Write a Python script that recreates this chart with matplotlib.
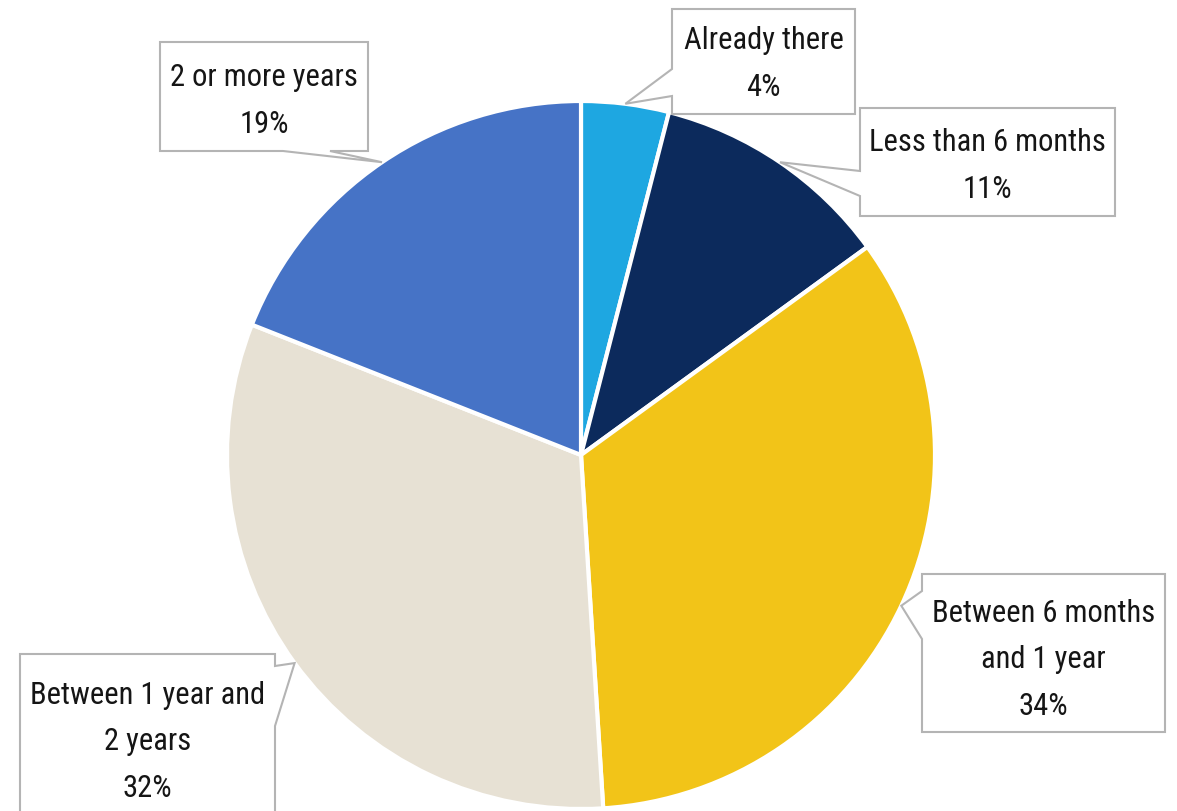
import numpy as np
import matplotlib.pyplot as plt
from matplotlib.patches import Polygon

labels = ["Already there", "Less than 6 months", "Between 6 months\nand 1 year",
          "Between 1 year and\n2 years", "2 or more years"]
shares = [4, 11, 34, 32, 19]
colors = ["#1ea7e1", "#0c2a5c", "#f2c418", "#e7e1d4", "#4673c6"]

plt.rcParams['font.family'] = ['Liberation Sans Narrow', 'DejaVu Sans Condensed',
                               'Roboto Condensed', 'Open Sans Condensed', 'Roboto']

W, H = 1177, 812
CX, CY, R = 581, 456, 354

def px(x, y):
    # pixel position -> data units (pie centre at 0,0, radius 1)
    return ((x - CX) / R, (CY - y) / R)

fig = plt.figure(figsize=(W / 100, H / 100), dpi=100)
ax = fig.add_axes([0, 0, 1, 1])

wedges, _ = ax.pie(shares, colors=colors, startangle=90, counterclock=False,
                   radius=1, wedgeprops=dict(edgecolor='white', linewidth=3))
ax.set_xlim(-CX / R, (W - CX) / R)
ax.set_ylim((CY - H) / R, CY / R)
ax.set_aspect('equal')
ax.axis('off')

# callout boxes: (left, top, right, bottom) in pixels, pointer side, pointer base, text centre y
boxes = [
    ((672, 10, 855, 115), 'left', (70, 97), 64),
    ((860, 109, 1115, 217), 'left', (172, 197), 166),
    ((922, 575, 1165, 733), 'left', (592, 640), 660),
    ((20, 655, 275, 850), 'right', (667, 727), 742),
    ((160, 43, 368, 152), 'bottom', (283, 330), 101),
]

for w, lab, val, (box, side, base, cy) in zip(wedges, labels, shares, boxes):
    mid = np.deg2rad((w.theta1 + w.theta2) / 2)
    tip = (np.cos(mid), np.sin(mid))
    l, t, r, b = box
    if side == 'left':
        pts = [(l, t), (r, t), (r, b), (l, b), (l, base[1]), None, (l, base[0])]
    elif side == 'right':
        pts = [(l, t), (r, t), (r, base[0]), None, (r, base[1]), (r, b), (l, b)]
    else:
        pts = [(l, t), (r, t), (r, b), (base[1], b), None, (base[0], b), (l, b)]
    verts = [tip if p is None else px(*p) for p in pts]
    ax.add_patch(Polygon(verts, closed=True, facecolor='white',
                         edgecolor='#b4b4b4', linewidth=1.5, zorder=3))
    tx, ty = px((l + r) / 2, cy)
    ax.text(tx, ty, f"{lab}\n{val}%", ha='center', va='center', fontsize=22,
            color='#151515', linespacing=1.78, zorder=4)

fig.savefig('out.png', dpi=100)
